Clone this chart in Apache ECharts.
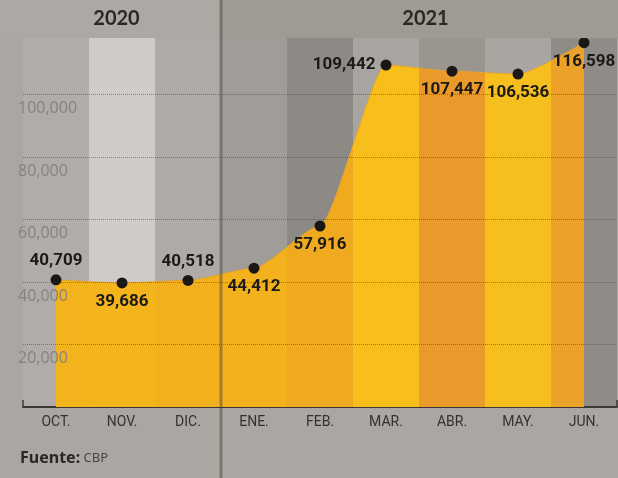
<!DOCTYPE html>
<html>
<head>
<meta charset="utf-8">
<script src="https://cdn.jsdelivr.net/npm/echarts@6/dist/echarts.min.js"></script>
<style>
  html, body { margin: 0; padding: 0; background: #a9a59f; }
  #main { width: 618px; height: 478px; }
</style>
</head>
<body>
<div id="main"></div>
<script>
// datos
const months = ["OCT.", "NOV.", "DIC.", "ENE.", "FEB.", "MAR.", "ABR.", "MAY.", "JUN."];
const values = [40709, 39686, 40518, 44412, 57916, 109442, 107447, 106536, 116598];
const years = ["2020", "2021"];
const yMin = 0;
const yMax = 120000;
const yStep = 20000;

// donde va cada etiqueta respecto al punto
const labelPlace = ["top", "bottom", "top", "bottom", "bottom", "left", "bottom", "bottom", "bottom"];

// franjas de fondo (gris) y del area (amarillo), una por mes
const grayBands = ["#b0aca9", "#d0cbc8", "#aeaaa7", "#a09c97", "#8d8984", "#a8a49f", "#9a968f", "#a9a5a0", "#8f8c87"];
const yellowBands = ["#f3b31d", "#f4b41c", "#f2b01e", "#f3b11d", "#f0aa20", "#f8bf1c", "#e99a2a", "#f6bf1e", "#eca228"];

// gradiente horizontal con cortes duros, una franja por mes
function bandGradient(colors) {
  let n = colors.length - 1;
  let stops = [];
  colors.forEach((c, i) => {
    stops.push({ offset: Math.max(0, (2 * i - 1) / (2 * n)), color: c });
    stops.push({ offset: Math.min(1, (2 * i + 1) / (2 * n)), color: c });
  });
  return new echarts.graphic.LinearGradient(0, 0, 1, 0, stops);
}

let chart = echarts.init(document.getElementById("main"));

let option = {
  backgroundColor: "#aaa6a1",
  animation: false,
  grid: { left: 23, right: 1, top: 32, bottom: 71 },
  xAxis: {
    type: "category",
    data: months,
    boundaryGap: true,
    axisLine: { lineStyle: { color: "#3b3836", width: 2 } },
    axisTick: { show: true, inside: true, length: 7, interval: 0, lineStyle: { color: "#3b3836", width: 1.5 } },
    axisLabel: { interval: 0, margin: 8, color: "#35312e", fontFamily: "Roboto, sans-serif", fontSize: 14 },
    splitLine: { show: false },
    splitArea: { show: true, interval: 0, areaStyle: { color: grayBands } }
  },
  yAxis: {
    type: "value",
    min: yMin,
    max: yMax,
    interval: yStep,
    z: 5,
    axisLine: { show: false },
    axisTick: { show: false },
    axisLabel: {
      showMinLabel: false,
      showMaxLabel: false,
      align: "left",
      verticalAlign: "top",
      margin: 5,
      padding: [6, 0, 0, 0],
      color: "#878280",
      fontFamily: "'Open Sans', sans-serif",
      fontSize: 16,
      formatter: v => v.toLocaleString("en-US")
    },
    splitLine: { lineStyle: { color: "rgba(60,54,48,0.5)", type: "dotted", width: 1 } }
  },
  series: [
    {
      type: "line",
      smooth: 0.2,
      smoothMonotone: "x",
      symbol: "circle",
      symbolSize: 11,
      itemStyle: { color: "#1a1816" },
      lineStyle: { color: "#e8a52a", width: 1 },
      areaStyle: { color: bandGradient(yellowBands), opacity: 1 },
      z: 3,
      data: values.map((v, i) => ({
        value: v,
        label: { position: labelPlace[i] }
      })),
      label: {
        show: true,
        distance: 5,
        color: "#1c1a18",
        fontFamily: "Roboto, sans-serif",
        fontWeight: "bold",
        fontSize: 17,
        formatter: p => p.value.toLocaleString("en-US")
      }
    }
  ]
};

chart.setOption(option);

// cabecera de años y division 2020/2021
let xDic = chart.convertToPixel({ xAxisIndex: 0 }, months[2]);
let xEne = chart.convertToPixel({ xAxisIndex: 0 }, months[3]);
let split = (xDic + xEne) / 2;
let W = chart.getWidth();
let H = chart.getHeight();

chart.setOption({
  graphic: [
    { type: "rect", z: 100, shape: { x: 0, y: 0, width: split, height: 38 }, style: { fill: "#aca8a3" } },
    { type: "rect", z: 100, shape: { x: split, y: 0, width: W - split, height: 38 }, style: { fill: "#9e9a94" } },
    {
      type: "text", z: 101, x: split / 2 + 6, y: 19,
      style: { text: years[0], fill: "#2b2723", font: "bold 20px Lato, sans-serif", align: "center", verticalAlign: "middle" }
    },
    {
      type: "text", z: 101, x: (split + W) / 2 + 6, y: 19,
      style: { text: years[1], fill: "#2b2723", font: "bold 20px Lato, sans-serif", align: "center", verticalAlign: "middle" }
    },
    {
      type: "line", z: 102, shape: { x1: split, y1: 0, x2: split, y2: H },
      style: { stroke: "rgba(70,60,50,0.45)", lineWidth: 3 }
    },
    {
      type: "text", z: 101, left: 20, top: 450,
      style: {
        text: "{b|Fuente:} {r|CBP}",
        rich: {
          b: { fill: "#2a2622", fontFamily: "'Noto Sans', sans-serif", fontWeight: "bold", fontSize: 16 },
          r: { fill: "#4a4643", fontFamily: "'Noto Sans', sans-serif", fontSize: 13 }
        }
      }
    }
  ]
});
</script>
</body>
</html>
